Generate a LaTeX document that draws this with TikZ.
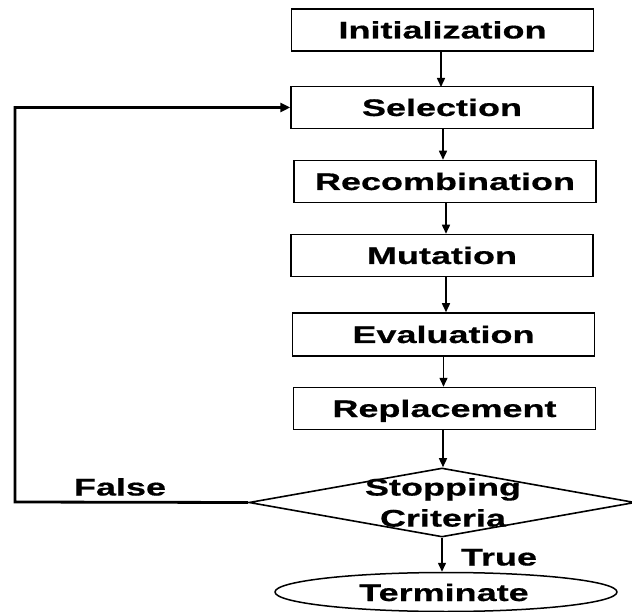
\documentclass[tikz,border=0pt]{standalone}
\usepackage{fontspec}
\newfontfamily\wfont[FakeStretch=1.5,FakeBold=0.6]{Liberation Sans}
\usetikzlibrary{shapes.geometric,arrows.meta}
\begin{document}
\begin{tikzpicture}[x=1pt,y=-1pt,
  every node/.style={font=\wfont\bfseries\fontsize{24}{31}\selectfont},
  stepbox/.style={draw, line width=1.5pt, rectangle, inner sep=0pt, minimum width=302pt, minimum height=42pt, text height=17pt, text depth=0pt},
  lbl/.style={inner sep=0pt, text height=17pt, text depth=0pt},
  arr/.style={line width=1.5pt, -{Triangle[length=9pt,width=8pt]}},
  loop/.style={line width=2.8pt, -{Triangle[length=10pt,width=9pt]}}]
\useasboundingbox (0,0) rectangle (632,612);
\node[stepbox] (init) at (442.5,30) {Initialization};
\node[stepbox] (sel) at (442,107.5) {Selection};
\node[stepbox] (rec) at (445,181.5) {Recombination};
\node[stepbox] (mut) at (442,255.5) {Mutation};
\node[stepbox, minimum height=43pt] (eva) at (443.5,334.5) {Evaluation};
\node[stepbox] (rep) at (444.5,408.5) {Replacement};
\node[draw, diamond, line width=1.6pt, inner sep=0pt, minimum width=386pt, minimum height=69pt] (stop) at (442,502.5) {};
\node[align=center, inner sep=0pt] (stoptxt) at (443,502.5) {Stopping\\Criteria};
\node[draw, ellipse, line width=1.5pt, inner sep=0pt, minimum width=342pt, minimum height=39pt] (term) at (446,592) {};
\node[lbl] (termtxt) at (444,592.5) {Terminate};
\node[lbl] (truelbl) at (499,557) {True};
\node[lbl] (falselbl) at (120,487) {False};
\coordinate (c1) at (15,502);
\coordinate (c2) at (15,107.5);
\draw[arr] (init.south -| 441,0) -- (441,87);
\draw[arr] ([xshift=1pt]sel.south) -- ([xshift=1pt]sel.south |- rec.north);
\draw[arr] ([xshift=1pt]rec.south) -- ([xshift=1pt]rec.south |- mut.north);
\draw[arr] ([xshift=4pt]mut.south) -- ([xshift=4pt]mut.south |- eva.north);
\draw[arr] (eva.south) -- (eva.south |- rep.north);
\draw[arr] ([xshift=-1.5pt]rep.south) -- ([xshift=-1.5pt]rep.south |- stop.north);
\draw[arr] (stop.south) -- (stop.south |- term.north);
\draw[loop] (stop.west) -- (c1) -- (c2) -- (sel.west);
\end{tikzpicture}
\end{document}
